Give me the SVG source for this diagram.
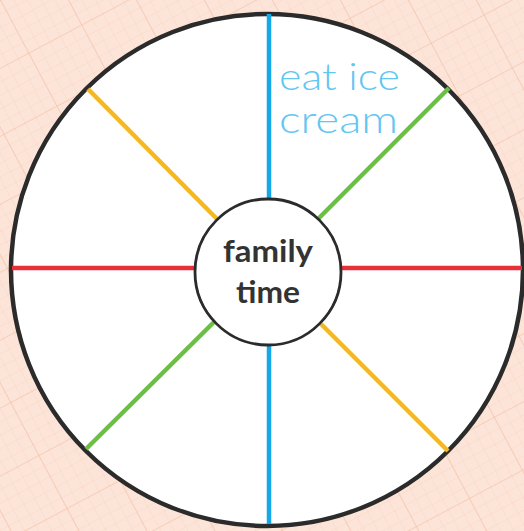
<svg xmlns="http://www.w3.org/2000/svg" width="524" height="531" viewBox="0 0 524 531">
<defs>
<pattern id="fine" width="12" height="12" patternUnits="userSpaceOnUse" patternTransform="rotate(-28)">
<path d="M0 0H12M0 0V12" fill="none" stroke="#f7d3c0" stroke-width="0.8"/>
</pattern>
<pattern id="major" width="60" height="60" patternUnits="userSpaceOnUse" patternTransform="rotate(-28)">
<path d="M0 0H60M0 0V60" fill="none" stroke="#f3c2a8" stroke-width="1.2"/>
</pattern>
<style>
.spoke{stroke-width:4.5;stroke-linecap:butt;fill:none}
.blue{stroke:#14a8e8}
.red{stroke:#e8303a}
.yellow{stroke:#f6b820}
.green{stroke:#6cbf45}
.lbl{font-family:"Lato","Noto Sans",sans-serif;font-weight:bold;fill:#333;font-size:31px;text-anchor:middle}
.hand{font-family:"Lato","Noto Sans",sans-serif;font-weight:300;fill:#62c6f2;font-size:37px}
</style>
</defs>
<rect width="524" height="531" fill="#fce5d8"/>
<rect width="524" height="531" fill="url(#fine)"/>
<rect width="524" height="531" fill="url(#major)"/>
<g id="wheel">
<circle cx="267" cy="270" r="256" fill="#ffffff" stroke="#2b2b2b" stroke-width="4.5"/>
</g>
<g id="connectors">
<line class="spoke blue" x1="269" y1="14" x2="269" y2="199"/>
<line class="spoke blue" x1="269" y1="346" x2="269" y2="524"/>
<line class="spoke red" x1="12" y1="268" x2="195" y2="268"/>
<line class="spoke red" x1="341" y1="268" x2="522" y2="268"/>
<line class="spoke yellow" x1="88" y1="89" x2="217" y2="219"/>
<line class="spoke green" x1="449" y1="88" x2="318" y2="219"/>
<line class="spoke green" x1="86" y1="449" x2="214" y2="322"/>
<line class="spoke yellow" x1="448" y1="451" x2="321" y2="324"/>
</g>
<g id="center">
<circle cx="268" cy="272" r="73" fill="#ffffff" stroke="#2b2b2b" stroke-width="2.8"/>
<text class="lbl" x="268" y="262" textLength="90" lengthAdjust="spacingAndGlyphs">family</text>
<text class="lbl" x="268" y="303" textLength="64" lengthAdjust="spacingAndGlyphs">time</text>
</g>
<g id="label-eat-ice-cream">
<text class="hand" x="279" y="90" textLength="121" lengthAdjust="spacingAndGlyphs">eat ice</text>
<text class="hand" x="279" y="133" textLength="119" lengthAdjust="spacingAndGlyphs">cream</text>
</g>
</svg>
